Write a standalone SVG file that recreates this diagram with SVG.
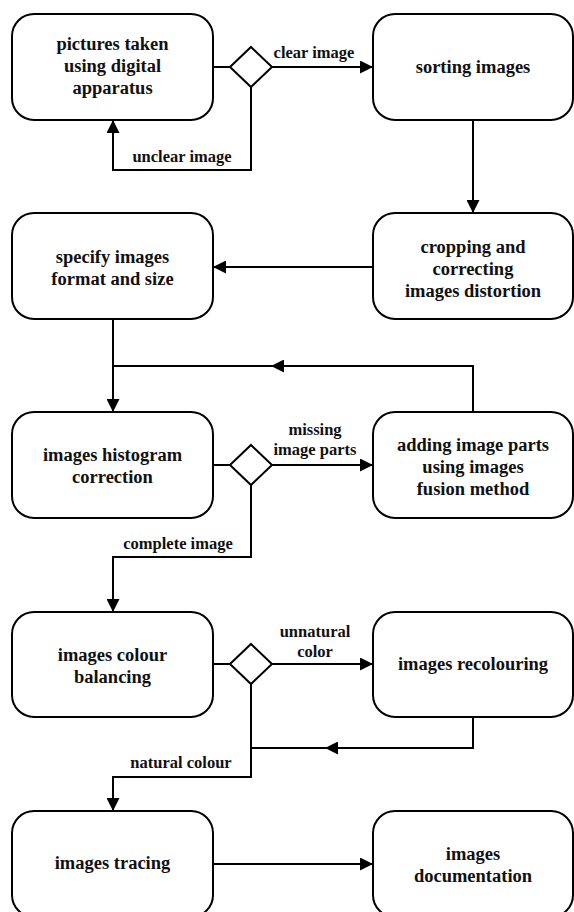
<svg xmlns="http://www.w3.org/2000/svg" width="574" height="912" viewBox="0 0 574 912">
<defs>
<style>
.box{fill:#fff;stroke:#000;stroke-width:2}
.dia{fill:#fff;stroke:#000;stroke-width:2}
.t{font-family:'Liberation Serif','DejaVu Serif',serif;font-weight:700;font-size:18.5px;fill:#111;text-anchor:middle}
.l{font-family:'Liberation Serif','DejaVu Serif',serif;font-weight:700;font-size:16.5px;fill:#111;text-anchor:middle}
.c{fill:none;stroke:#000;stroke-width:2}
.a{marker-end:url(#ah)}
</style>
<marker id="ah" markerUnits="userSpaceOnUse" markerWidth="13" markerHeight="13" refX="13" refY="6.5" orient="auto">
<path d="M0,0 L13,6.5 L0,13 z" fill="#000"/>
</marker>
</defs>
<rect width="574" height="912" fill="#fff"/>
<g id="connectors">
<path class="c" d="M213,67 H230"/>
<path class="c a" d="M272,67 H373"/>
<path class="c a" d="M251,87 V170 H113 V120"/>
<path class="c a" d="M473,120 V213"/>
<path class="c a" d="M373,267 H213"/>
<path class="c a" d="M113,319 V412"/>
<path class="c a" d="M473,412 V366 H271"/>
<path class="c" d="M272,366 H113"/>
<path class="c" d="M213,465 H230"/>
<path class="c a" d="M272,465 H373"/>
<path class="c a" d="M251,485 V557 H113 V612"/>
<path class="c" d="M213,664 H230"/>
<path class="c a" d="M272,664 H373"/>
<path class="c a" d="M473,717 V748 H325"/>
<path class="c" d="M326,748 H251"/>
<path class="c a" d="M251,684 V777 H113 V811"/>
<path class="c a" d="M213,864 H373"/>
<text class="l" x="314" y="58" font-family="Liberation Serif">clear image</text>
<text class="l" x="182" y="162" font-family="Liberation Serif">unclear image</text>
<text class="l" x="315" y="435" font-family="Liberation Serif">missing</text>
<text class="l" x="315" y="455" font-family="Liberation Serif">image parts</text>
<text class="l" x="178" y="549" font-family="Liberation Serif">complete image</text>
<text class="l" x="315" y="637" font-family="Liberation Serif">unnatural</text>
<text class="l" x="315" y="657" font-family="Liberation Serif">color</text>
<text class="l" x="181" y="768" font-family="Liberation Serif">natural colour</text>
</g>
<g id="n1"><rect class="box" x="12" y="14" width="201" height="106" rx="22"/>
<text class="t" x="112.5" y="50">pictures taken</text><text class="t" x="112.5" y="72">using digital</text><text class="t" x="112.5" y="94">apparatus</text></g>
<g id="d1"><path class="dia" d="M251,47 L272,67 L251,87 L230,67 z"/></g>
<g id="n2"><rect class="box" x="373" y="14" width="200" height="106" rx="22"/>
<text class="t" x="473" y="73">sorting images</text></g>
<g id="n3"><rect class="box" x="373" y="213" width="200" height="106" rx="22"/>
<text class="t" x="473" y="253">cropping and</text><text class="t" x="473" y="275">correcting</text><text class="t" x="473" y="297">images distortion</text></g>
<g id="n4"><rect class="box" x="12" y="213" width="201" height="106" rx="22"/>
<text class="t" x="112.5" y="263">specify images</text><text class="t" x="112.5" y="285">format and size</text></g>
<g id="n5"><rect class="box" x="12" y="412" width="201" height="106" rx="22"/>
<text class="t" x="112.5" y="461">images histogram</text><text class="t" x="112.5" y="483">correction</text></g>
<g id="d2"><path class="dia" d="M251,445 L272,465 L251,485 L230,465 z"/></g>
<g id="n6"><rect class="box" x="373" y="412" width="200" height="106" rx="22"/>
<text class="t" x="473" y="451">adding image parts</text><text class="t" x="473" y="473">using images</text><text class="t" x="473" y="495">fusion method</text></g>
<g id="n7"><rect class="box" x="12" y="612" width="201" height="105" rx="22"/>
<text class="t" x="112.5" y="661">images colour</text><text class="t" x="112.5" y="683">balancing</text></g>
<g id="d3"><path class="dia" d="M251,644 L272,664 L251,684 L230,664 z"/></g>
<g id="n8"><rect class="box" x="373" y="612" width="200" height="105" rx="22"/>
<text class="t" x="473" y="670">images recolouring</text></g>
<g id="n9"><rect class="box" x="12" y="811" width="201" height="106" rx="22"/>
<text class="t" x="112.5" y="869">images tracing</text></g>
<g id="n10"><rect class="box" x="373" y="811" width="200" height="106" rx="22"/>
<text class="t" x="473" y="860">images</text><text class="t" x="473" y="882">documentation</text></g>
</svg>
